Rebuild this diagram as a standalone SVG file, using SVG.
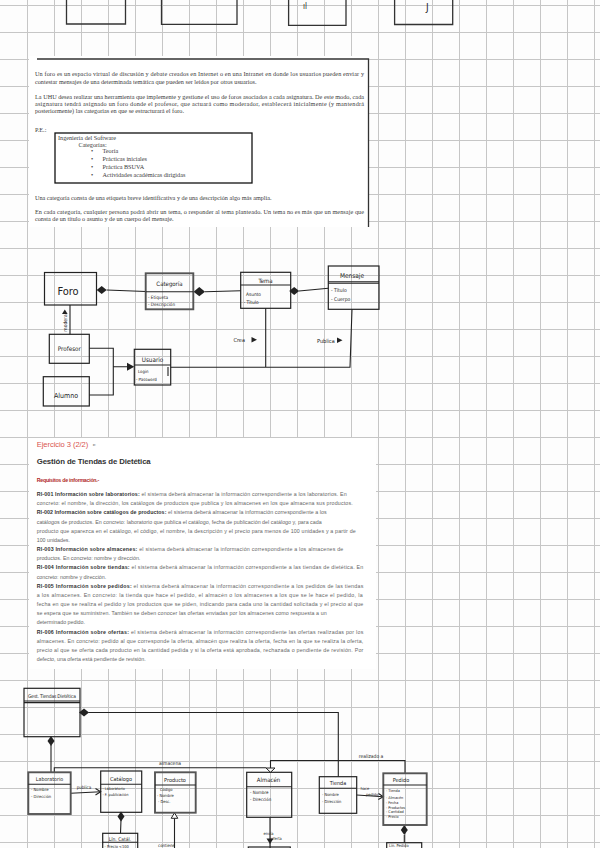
<svg xmlns="http://www.w3.org/2000/svg" xmlns:xlink="http://www.w3.org/1999/xlink" width="600" height="848" viewBox="0 0 600 848">
<style>
.grid{stroke:#c6c6c6;stroke-width:1;fill:none}
.box{fill:none;stroke:#222;stroke-width:1.2}
.gbox{fill:none;stroke:#555;stroke-width:1.9}
.ln{fill:none;stroke:#222;stroke-width:1.1}
.hw{font-family:"DejaVu Sans Condensed","DejaVu Sans",sans-serif;fill:#222}
.ser{font-family:"Liberation Serif",serif;fill:#3a3a3a;font-size:6.2px}
.doc{font-family:"Liberation Sans",Arial,sans-serif;fill:#666;font-size:5.3px}
.doc .b{font-weight:bold;fill:#333}
.fill{fill:#222}
.open{fill:#fdfdfd;stroke:#222;stroke-width:1}
</style>
<defs>
<polygon id="dh" points="-5,0 0,-4 5,0 0,4"/>
<polygon id="dv" points="0,-5 3.5,0 0,5 -3.5,0"/>
</defs>
<rect width="600" height="848" fill="#fdfdfd"/>
<g id="grid">
<path class="grid" d="M27.5 0V848M54.5 0V848M81.5 0V848M108.5 0V848M135.5 0V848M162.5 0V848M189.5 0V848M216.5 0V848M243.5 0V848M270.5 0V848M297.5 0V848M324.5 0V848M351.5 0V848M378.5 0V848M405.5 0V848M432.5 0V848M459.5 0V848M486.5 0V848M513.5 0V848M540.5 0V848M567.5 0V848M594.5 0V848M0 5.5H600M0 32.5H600M0 59.5H600M0 86.5H600M0 113.5H600M0 140.5H600M0 167.5H600M0 194.5H600M0 221.5H600M0 248.5H600M0 275.5H600M0 302.5H600M0 329.5H600M0 356.5H600M0 383.5H600M0 410.5H600M0 437.5H600M0 464.5H600M0 491.5H600M0 518.5H600M0 545.5H600M0 572.5H600M0 599.5H600M0 626.5H600M0 653.5H600M0 680.5H600M0 707.5H600M0 734.5H600M0 761.5H600M0 788.5H600M0 815.5H600M0 842.5H600"/>
</g>
<g id="prev-page">
<path d="M66.5 0V24H125.5V0M161.5 0V24.3H237V0M288.6 0V25.3H346V0M394.6 0V24.5H452.7V0" fill="none" stroke="#333" stroke-width="1.3"/>
<text class="hw" x="303" y="9" font-size="8">ıl</text>
<text class="hw" x="426" y="11" font-size="10">J</text>
</g>
<g id="statement">
<rect x="29" y="56" width="340" height="171" fill="#fff"/>
<path d="M37 59H368.5V227" fill="none" stroke="#333" stroke-width="1.3"/>
<text class="ser" x="35" y="76" textLength="329">Un foro es un espacio virtual de discusión y debate creados en Internet o en una Intranet en donde los usuarios pueden enviar y</text>
<text class="ser" x="35" y="84">contestar mensajes de una determinada temática que pueden ser leídos por otros usuarios.</text>
<text class="ser" x="35" y="98.5" textLength="329">La UHU desea realizar una herramienta que implemente y gestione el uso de foros asociados a cada asignatura. De este modo, cada</text>
<text class="ser" x="35" y="105.5" textLength="329">asignatura tendrá asignado un foro donde el profesor, que actuará como moderador, establecerá inicialmente (y mantendrá</text>
<text class="ser" x="35" y="112.5">posteriormente) las categorías en que se estructurará el foro.</text>
<text class="ser" x="35" y="132">P.E.:</text>
<rect x="55" y="133" width="197" height="50" fill="none" stroke="#111" stroke-width="1.3"/>
<text class="ser" x="58" y="140" font-size="5.6">Ingeniería del Software</text>
<text class="ser" x="78.5" y="146.5" font-size="5.6">Categorías:</text>
<g class="ser" font-size="5.6">
<text x="91" y="153">•</text><text x="102.5" y="153">Teoría</text>
<text x="91" y="161">•</text><text x="102.5" y="161">Prácticas iniciales</text>
<text x="91" y="168.5">•</text><text x="102.5" y="168.5">Práctica BSUVA</text>
<text x="91" y="176.5">•</text><text x="102.5" y="176.5">Actividades académicas dirigidas</text>
</g>
<text class="ser" x="35" y="199.5">Una categoría consta de una etiqueta breve identificativa y de una descripción algo más amplia.</text>
<text class="ser" x="35" y="213.5" textLength="329">En cada categoría, cualquier persona podrá abrir un tema, o responder al tema planteado. Un tema no es más que un mensaje que</text>
<text class="ser" x="35" y="221">consta de un título o asunto y de un cuerpo del mensaje.</text>
</g>
<g id="foro-connectors">
<path class="ln" d="M106.7 290L145.7 291.5M205 291.7L240.7 290.7M299 291L328.3 288.3M70 305V334.3M89.3 348.3H113.3V395H89.3M113.3 366.7H127M170.7 367.3H350L352 309.3M265.7 308.3V367.3"/>
<use href="#dh" x="101.7" y="290" class="fill"/>
<use href="#dh" x="199.3" y="291.7" class="fill" transform="translate(199.3 291.7) scale(1.15) translate(-199.3 -291.7)"/>
<use href="#dh" x="294.2" y="291" class="fill"/>
<polygon class="fill" points="127,362.7 134.3,366.7 127,370.7"/>
<polygon class="fill" points="62,314 64.8,309.5 67.6,314"/>
<text class="hw" font-size="5" transform="translate(66.5 323) rotate(-90)" text-anchor="middle">modera</text>
<text class="hw" x="233.5" y="342" font-size="5.5">Crea</text>
<polygon class="fill" points="251.5,337 257,339.8 251.5,342.6"/>
<text class="hw" x="317" y="342.5" font-size="5.5">Publica</text>
<polygon class="fill" points="337,337.5 342.5,340.3 337,343.1"/>
</g>
<g id="foro">
<rect class="box" x="44.5" y="272.5" width="52" height="32.5"/>
<text class="hw" x="68" y="295" font-size="11" text-anchor="middle">Foro</text>
</g>
<g id="categoria">
<rect class="gbox" x="145.7" y="273.3" width="47.6" height="36"/>
<path class="ln" d="M145.7 291.7H193.3"/>
<text class="hw" x="169.5" y="286" font-size="6" text-anchor="middle">Categoría</text>
<text class="hw" x="148" y="298.5" font-size="4.6">- Etiqueta</text>
<text class="hw" x="148" y="305.5" font-size="4.6">- Descripción</text>
</g>
<g id="tema">
<rect class="box" x="240.7" y="272.3" width="50" height="36"/>
<path class="ln" d="M240.7 285H290.7"/>
<text class="hw" x="265.5" y="282.5" font-size="6" text-anchor="middle">Tema</text>
<text class="hw" x="246" y="295.5" font-size="4.8">Asunto</text>
<text class="hw" x="243.5" y="304" font-size="4.8">- Título</text>
</g>
<g id="mensaje">
<rect class="box" x="328.3" y="266" width="50.7" height="43.3"/>
<path class="ln" d="M328.3 281.8H379M328.3 283.3H379"/>
<text class="hw" x="352" y="278" font-size="6.5" text-anchor="middle">Mensaje</text>
<text class="hw" x="331" y="291.5" font-size="5">- Título</text>
<text class="hw" x="331" y="300.5" font-size="5">- Cuerpo</text>
</g>
<g id="profesor">
<rect class="box" x="49.3" y="334.3" width="40" height="29"/>
<text class="hw" x="69.3" y="351" font-size="6.3" text-anchor="middle">Profesor</text>
</g>
<g id="alumno">
<rect class="box" x="43.3" y="376.7" width="46" height="29.3"/>
<text class="hw" x="66" y="397.5" font-size="7" text-anchor="middle">Alumno</text>
</g>
<g id="usuario">
<rect class="box" x="134.3" y="349.3" width="36.4" height="35.7"/>
<path class="ln" d="M134.3 365H170.7M168 367V376"/>
<text class="hw" x="152.5" y="361.5" font-size="6.3" text-anchor="middle">Usuario</text>
<text class="hw" x="138" y="373" font-size="4.3">Login</text>
<text class="hw" x="136" y="380.5" font-size="4.3">- Password</text>
</g>
<g id="ejercicio">
<rect x="29" y="438" width="347" height="231" fill="#fff"/>
<text x="36.7" y="446.5" font-family="Liberation Sans,Arial,sans-serif" font-size="7.6" fill="#d9534f" textLength="51.6">Ejercicio 3 (2/2)</text>
<text x="93" y="446" font-family="DejaVu Sans,sans-serif" font-size="4" fill="#999">►</text>
<text x="36.7" y="463.8" font-family="Liberation Sans,Arial,sans-serif" font-size="7.8" font-weight="bold" fill="#333" textLength="114">Gestión de Tiendas de Dietética</text>
<text x="36.7" y="482" font-family="Liberation Sans,Arial,sans-serif" font-size="5.3" font-weight="bold" fill="#b02a2a" textLength="62.6">Requisitos de información.-</text>
<g class="doc">
<text x="36.7" y="496" textLength="310"><tspan class="b">RI-001 Información sobre laboratorios:</tspan> el sistema deberá almacenar la información correspondiente a los laboratorios. En</text>
<text x="36.7" y="505.2" textLength="316">concreto: el nombre, la dirección, los catálogos de productos que publica y los almacenes en los que almacena sus productos.</text>
<text x="36.7" y="514.3" textLength="290"><tspan class="b">RI-002 Información sobre catálogos de productos:</tspan> el sistema deberá almacenar la información correspondiente a los</text>
<text x="36.7" y="523.5" textLength="285">catálogos de productos. En concreto: laboratorio que publica el catálogo, fecha de publicación del catálogo y, para cada</text>
<text x="36.7" y="532.7" textLength="319">producto que aparezca en el catálogo, el código, el nombre, la descripción y el precio para menos de 100 unidades y a partir de</text>
<text x="36.7" y="541.8">100 unidades.</text>
<text x="36.7" y="551" textLength="306.6"><tspan class="b">RI-003 Información sobre almacenes:</tspan> el sistema deberá almacenar la información correspondiente a los almacenes de</text>
<text x="36.7" y="560.2">productos. En concreto: nombre y dirección.</text>
<text x="36.7" y="569.4" textLength="326.6"><tspan class="b">RI-004 Información sobre tiendas:</tspan> el sistema deberá almacenar la información correspondiente a las tiendas de dietética. En</text>
<text x="36.7" y="578.5">concreto: nombre y dirección.</text>
<text x="36.7" y="587.7" textLength="326.6"><tspan class="b">RI-005 Información sobre pedidos:</tspan> el sistema deberá almacenar la información correspondiente a los pedidos de las tiendas</text>
<text x="36.7" y="596.9" textLength="326">a los almacenes. En concreto: la tienda que hace el pedido, el almacén o los almacenes a los que se le hace el pedido, la</text>
<text x="36.7" y="606" textLength="326.6">fecha en que se realiza el pedido y los productos que se piden, indicando para cada uno la cantidad solicitada y el precio al que</text>
<text x="36.7" y="615.2" textLength="290">se espera que se suministren. También se deben conocer las ofertas enviadas por los almacenes como respuesta a un</text>
<text x="36.7" y="624.4">determinado pedido.</text>
<text x="36.7" y="633.5" textLength="326.6"><tspan class="b">RI-006 Información sobre ofertas:</tspan> el sistema deberá almacenar la información correspondiente las ofertas realizadas por los</text>
<text x="36.7" y="642.7" textLength="326.6">almacenes. En concreto: pedido al que corresponde la oferta, almacén que realiza la oferta, fecha en la que se realiza la oferta,</text>
<text x="36.7" y="651.9" textLength="326.6">precio al que se oferta cada producto en la cantidad pedida y si la oferta está aprobada, rechazada o pendiente de revisión. Por</text>
<text x="36.7" y="661">defecto, una oferta está pendiente de revisión.</text>
</g>
</g>
<g id="dietetica-connectors">
<path class="ln" d="M88.3 712.5H338.3V776.7M51 745V772.3M54.3 772.3V767.7H266M70.7 793.3L100.7 791.7M121 820L120.5 833.3M174.5 818.3V848M270 817.3V848M405 773.3V760.5H270.5V768.5M356.7 795L383.3 796.7M404.3 835V842.7"/>
<use href="#dh" x="84" y="712.6" class="fill"/>
<use href="#dv" x="51" y="741" class="fill"/>
<use href="#dv" x="121" y="816.5" class="fill"/>
<use href="#dv" x="404.3" y="830" class="fill"/>
<polygon class="open" points="266,768 275,768 270.5,772.3"/>
<path class="ln" d="M95.5 788.5L100.7 791.7L95.5 795M378.5 793.5L383.3 796.7L378.3 799.5"/>
<polygon class="open" points="171.2,818.3 174.5,812.8 177.8,818.3"/>
<polygon class="fill" points="266.5,838.5 273.5,838.5 270,844"/>
<text class="hw" x="170" y="765" font-size="5" text-anchor="middle">almacena</text>
<text class="hw" x="84" y="788.5" font-size="4.5" text-anchor="middle">publica</text>
<text class="hw" x="158" y="846.5" font-size="4.3">contiene</text>
<text class="hw" x="263.5" y="834.5" font-size="4">envía</text>
<text class="hw" x="271" y="839.5" font-size="4">oferta</text>
<text class="hw" x="371" y="757.5" font-size="5" text-anchor="middle">realizado a</text>
<text class="hw" x="360.5" y="790" font-size="4">hace</text>
<text class="hw" x="366" y="795.5" font-size="4">pedido</text>
</g>
<g id="tiendas-dietetica">
<rect class="box" x="24" y="688.3" width="56" height="48.4"/>
<path class="ln" d="M24 701H80M24 702.6H80"/>
<text class="hw" x="52" y="697.5" font-size="5" text-anchor="middle" textLength="48">Gest. Tiendas Dietética</text>
</g>
<g id="laboratorio">
<rect class="gbox" x="28.3" y="772.3" width="42.4" height="41.7"/>
<path class="ln" d="M28.3 784.3H70.7"/>
<text class="hw" x="49.5" y="781.2" font-size="5.3" text-anchor="middle">Laboratorio</text>
<text class="hw" x="31" y="791" font-size="4.2">- Nombre</text>
<text class="hw" x="31" y="798" font-size="4.2">- Dirección</text>
</g>
<g id="catalogo">
<rect class="box" x="100.7" y="771" width="41" height="41.3"/>
<path class="ln" d="M100.7 784.3H141.7"/>
<text class="hw" x="121" y="780.8" font-size="5.5" text-anchor="middle">Catálogo</text>
<text class="hw" x="102.5" y="789.5" font-size="3.9">- Laboratorio</text>
<text class="hw" x="102.5" y="795.5" font-size="3.9">- F. publicación</text>
</g>
<g id="linea-catalogo">
<rect class="box" x="102.7" y="833.3" width="35" height="18"/>
<path class="ln" d="M102.7 842.3H137.7"/>
<text class="hw" x="120" y="840.5" font-size="5" text-anchor="middle">Lín. Catál.</text>
<text class="hw" x="104.5" y="847.5" font-size="4">- Precio &lt;100</text>
</g>
<g id="producto">
<rect class="gbox" x="155" y="772.3" width="40.7" height="40.4"/>
<path class="ln" d="M155 785H195.7"/>
<text class="hw" x="175" y="781.5" font-size="5.5" text-anchor="middle">Producto</text>
<text class="hw" x="160" y="791" font-size="4">Código</text>
<text class="hw" x="157" y="797" font-size="4">- Nombre</text>
<text class="hw" x="158" y="803" font-size="4">- Desc.</text>
</g>
<g id="almacen">
<rect class="box" x="246.7" y="772.3" width="45" height="45"/>
<path class="ln" d="M246.7 786.7H291.7"/>
<text class="hw" x="268.5" y="782" font-size="6" text-anchor="middle">Almacén</text>
<text class="hw" x="250" y="794" font-size="4.4">- Nombre</text>
<text class="hw" x="250" y="801" font-size="4.4">- Dirección</text>
</g>
<g id="oferta">
<rect class="box" x="248.3" y="847" width="42" height="6"/>
</g>
<g id="tienda">
<rect class="box" x="319.3" y="776.7" width="37.4" height="36.6"/>
<path class="ln" d="M319.3 788.3H356.7"/>
<text class="hw" x="338" y="785" font-size="5.5" text-anchor="middle">Tienda</text>
<text class="hw" x="322" y="795.5" font-size="4">- Nombre</text>
<text class="hw" x="322" y="802.5" font-size="4">- Dirección</text>
</g>
<g id="pedido">
<rect class="gbox" x="383.3" y="773.3" width="43.4" height="51.7"/>
<path class="ln" d="M383.3 785H426.7"/>
<text class="hw" x="401" y="781.8" font-size="5.5" text-anchor="middle">Pedido</text>
<g class="hw" font-size="3.8">
<text x="386" y="791.5">- Tienda</text>
<text x="386" y="798.5">- Almacén</text>
<text x="386" y="804">- Fecha</text>
<text x="386" y="808.5">- Productos</text>
<text x="386" y="812.5">- Cantidad</text>
<text x="386" y="817.5">- Precio</text>
</g>
</g>
<g id="linea-pedido">
<rect class="box" x="386.7" y="842.7" width="35" height="10"/>
<text class="hw" x="389" y="847.3" font-size="4">Lín. Pedido</text>
</g>
</svg>
